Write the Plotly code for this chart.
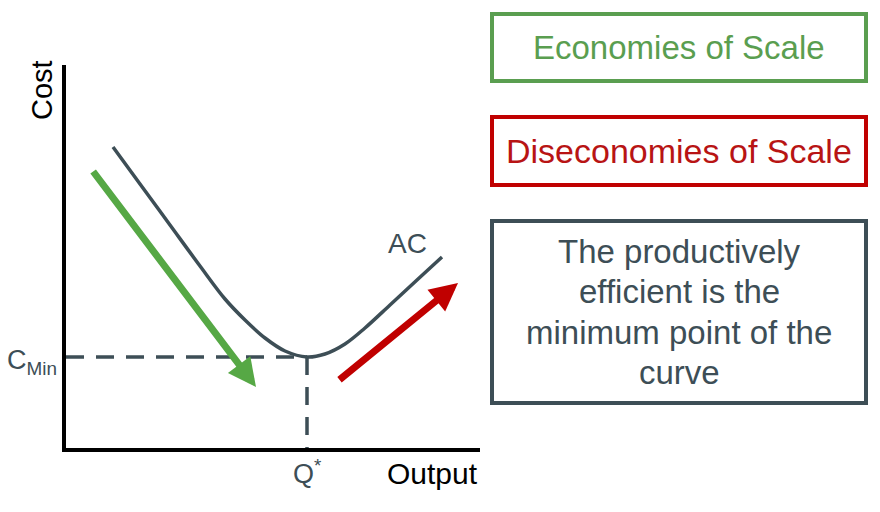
import plotly.graph_objects as go

# --- data (chart units: output on x, cost on y) ---
output_q = [47, 74, 104, 134, 159, 179, 199, 219, 241, 259, 279, 299, 324, 351, 376]
avg_cost = [301, 264, 223, 182, 149, 128, 110, 97, 91, 94, 104, 120, 143, 168, 191]
q_star = 241
c_min = 91
econ_arrow_tail = [26, 278]
econ_arrow_tip = [190, 61]
dis_arrow_tail = [272, 67]
dis_arrow_tip = [392, 165]
x_max = 414
y_max = 383
note_lines = ["The productively", "efficient is the", "minimum point of the", "curve"]

W, H = 880, 512
FONT = "Liberation Sans, Arial, sans-serif"
SLATE = "#3d4e56"
GREEN = "#56a845"
GREEN_BOX = "#5a9e50"
RED = "#c00000"
RED_TXT = "#b81414"

fig = go.Figure()

# dashed guides
fig.add_trace(go.Scatter(x=[0, q_star], y=[c_min, c_min], mode="lines",
                         line=dict(color=SLATE, width=3.5, dash="18px,12px"),
                         hoverinfo="skip"))
fig.add_trace(go.Scatter(x=[q_star, q_star], y=[c_min, 0], mode="lines",
                         line=dict(color=SLATE, width=3.5, dash="18px,12px"),
                         hoverinfo="skip"))
# AC curve
fig.add_trace(go.Scatter(x=output_q, y=avg_cost, mode="lines",
                         line=dict(color=SLATE, width=3.5, shape="spline", smoothing=1.0),
                         name="AC"))

ann = []
# arrows
ann.append(dict(x=econ_arrow_tip[0], y=econ_arrow_tip[1], ax=econ_arrow_tail[0], ay=econ_arrow_tail[1],
                xref="x", yref="y", axref="x", ayref="y", text="", showarrow=True,
                arrowhead=2, arrowsize=0.8, arrowwidth=7, arrowcolor=GREEN, standoff=0))
ann.append(dict(x=dis_arrow_tip[0], y=dis_arrow_tip[1], ax=dis_arrow_tail[0], ay=dis_arrow_tail[1],
                xref="x", yref="y", axref="x", ayref="y", text="", showarrow=True,
                arrowhead=2, arrowsize=0.8, arrowwidth=7, arrowcolor=RED, standoff=0))

def px(xp, yp):
    return xp / W, 1 - yp / H

def label(text, xp, yp, size, color, angle=0, xanchor="center", yanchor="middle"):
    x, y = px(xp, yp)
    ann.append(dict(x=x, y=y, xref="paper", yref="paper", text=text, showarrow=False,
                    textangle=angle, xanchor=xanchor, yanchor=yanchor,
                    font=dict(family=FONT, size=size, color=color)))

label("Cost", 42, 90, 29, "black", angle=-90)
label("C<sub>Min</sub>", 59, 362, 27, SLATE, xanchor="right")
label("Q<sup>*</sup>", 307, 472, 27, SLATE)
label("Output", 432, 473, 30, "black")
label("AC", 407, 243, 28, SLATE)

# boxes
shapes = []
def box(x0, y0, x1, y1, color):
    a0, b0 = px(x0, y0)
    a1, b1 = px(x1, y1)
    shapes.append(dict(type="rect", xref="paper", yref="paper", x0=a0, y0=b1, x1=a1, y1=b0,
                       line=dict(color=color, width=4), fillcolor="rgba(0,0,0,0)"))

box(492, 14, 866, 81, GREEN_BOX)
box(492, 117, 866, 185, RED)
box(492, 221, 866, 403, SLATE)

label("Economies of Scale", 679, 47, 33, GREEN_BOX)
label("Diseconomies of Scale", 679, 151, 34, RED_TXT)
for i, line in enumerate(note_lines):
    label(line, 679, 251 + i * 40.5, 33, SLATE)

fig.update_layout(
    width=W, height=H, margin=dict(l=0, r=0, t=0, b=0),
    paper_bgcolor="white", plot_bgcolor="white", showlegend=False,
    annotations=ann, shapes=shapes,
    xaxis=dict(domain=[66 / W, 480 / W], range=[0, x_max], showline=True, linecolor="black",
               linewidth=3.5, showgrid=False, zeroline=False, showticklabels=False, ticks=""),
    yaxis=dict(domain=[1 - 448 / H, 1 - 65 / H], range=[0, y_max], showline=True, linecolor="black",
               linewidth=3.5, showgrid=False, zeroline=False, showticklabels=False, ticks=""),
)

fig.write_html("out.html", config={"displayModeBar": False},
               post_script="document.body.style.margin='0';document.body.style.overflow='hidden';")
